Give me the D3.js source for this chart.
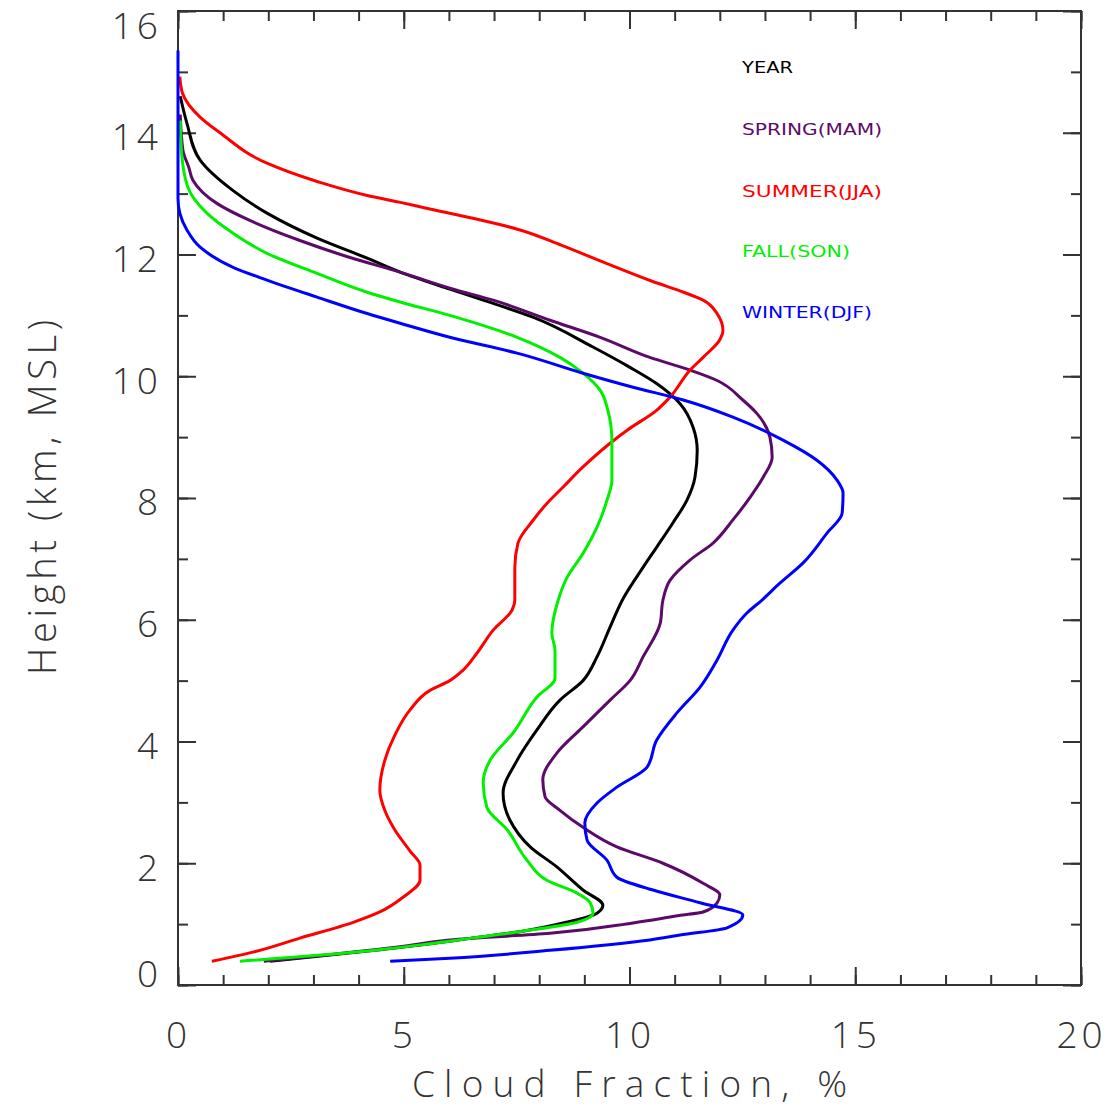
<!DOCTYPE html>
<html><head><meta charset="utf-8">
<script src="https://cdn.jsdelivr.net/npm/d3@7"></script>
<style>
html,body{margin:0;padding:0;background:#fff;}
svg{display:block;}
</style></head>
<body>
<svg id="chart" width="1107" height="1108"></svg>
<script>
// ---- data (cloud fraction %, height km) ----
const xTickLabels = [0, 5, 10, 15, 20];
const yTickLabels = [0, 2, 4, 6, 8, 10, 12, 14, 16];
const seriesNames = ["YEAR", "SPRING(MAM)", "SUMMER(JJA)", "FALL(SON)", "WINTER(DJF)"];
const seriesColors = ["#000000", "#5c0a68", "#ff0000", "#00f000", "#0000ff"];

const yearFrac   = [0.05,0.2,0.49,1.22,1.97,3.08,4.19,4.92,6.02,6.76,7.86,9.19,10.0,10.6,11.12,11.41,11.5,11.45,11.27,10.96,10.6,10.3,9.86,9.57,9.28,8.97,8.46,7.95,7.51,7.2,7.35,7.8,8.39,8.97,9.41,9.28,8.6,7.6,6.5,5.5,4.47,2.04];
const yearHgt    = [14.6,14.15,13.55,13.05,12.68,12.27,11.94,11.71,11.43,11.25,10.97,10.48,10.15,9.88,9.55,9.16,8.78,8.34,7.96,7.59,7.19,6.86,6.35,5.88,5.39,5.0,4.68,4.19,3.69,3.15,2.71,2.27,1.94,1.56,1.31,1.18,1.03,0.88,0.77,0.67,0.58,0.39];

const springFrac = [0.05,0.11,0.24,0.33,0.86,1.59,2.7,3.81,4.92,6.1,6.98,8.24,9.35,10.45,11.34,11.94,12.51,12.82,13.11,13.16,12.96,12.67,12.29,11.85,11.34,10.9,10.74,10.68,10.3,10.01,9.57,8.97,8.39,8.08,8.13,8.46,8.97,9.72,10.74,11.63,12.0,11.94,11.63,11.1,10.08,8.24,6.02,4.92,1.9];
const springHgt  = [14.3,13.71,13.43,13.22,12.84,12.56,12.23,11.95,11.71,11.43,11.25,10.92,10.64,10.31,10.1,9.93,9.61,9.39,9.0,8.67,8.34,8.01,7.64,7.26,6.98,6.65,6.32,5.94,5.39,5.0,4.68,4.24,3.81,3.37,3.09,2.87,2.59,2.27,2.0,1.67,1.48,1.35,1.2,1.14,1.02,0.85,0.74,0.63,0.39];

const summerFrac = [0.04,0.1,0.5,0.93,1.97,3.08,4.19,4.9,5.5,6.5,7.5,8.5,9.5,10.5,11.2,11.63,11.94,12.07,12.0,11.63,11.34,10.9,10.6,9.94,9.57,8.97,8.53,8.17,7.86,7.53,7.46,7.46,7.4,6.98,6.62,6.31,6.02,5.58,5.14,4.8,4.58,4.47,4.58,4.8,5.14,5.36,5.36,5.0,4.47,3.88,2.7,1.66,0.75];
const summerHgt  = [14.92,14.65,14.25,14.0,13.5,13.2,12.97,12.86,12.76,12.6,12.42,12.15,11.85,11.56,11.38,11.25,11.03,10.75,10.6,10.31,10.1,9.66,9.44,9.11,8.9,8.51,8.18,7.91,7.63,7.26,6.86,6.32,6.16,5.83,5.45,5.17,5.0,4.84,4.52,4.1,3.69,3.2,2.87,2.55,2.2,1.97,1.72,1.45,1.2,1.03,0.77,0.54,0.39];

const fallFrac   = [0.05,0.08,0.22,0.64,1.22,1.97,3.08,4.19,4.92,6.02,7.51,8.46,8.97,9.35,9.52,9.61,9.61,9.5,9.28,8.97,8.62,8.42,8.28,8.35,8.35,7.95,7.42,6.91,6.76,6.84,7.29,7.73,8.17,8.84,9.13,9.19,8.84,7.6,6.5,5.5,4.47,1.37];
const fallHgt    = [14.2,13.66,13.1,12.68,12.35,12.02,11.69,11.38,11.22,11.0,10.64,10.31,10.05,9.77,9.44,8.95,8.29,7.96,7.52,7.09,6.7,6.32,5.78,5.5,5.04,4.73,4.14,3.69,3.33,2.92,2.55,2.05,1.72,1.51,1.35,1.18,1.03,0.88,0.77,0.67,0.58,0.39];

const winterFrac = [0.0,0.0,0.04,0.2,0.49,1.22,1.97,3.08,4.19,4.92,6.02,7.51,8.97,10.08,11.19,12.29,13.4,14.15,14.6,14.73,14.71,14.37,13.84,13.33,12.93,12.6,12.29,11.94,11.56,11.05,10.6,10.39,9.72,9.28,9.01,9.06,9.5,9.72,10.52,11.56,12.51,12.16,11.12,10.45,8.24,6.02,4.7];
const winterHgt  = [15.35,12.92,12.68,12.4,12.12,11.79,11.58,11.3,11.03,10.87,10.64,10.38,10.05,9.82,9.61,9.33,8.95,8.62,8.29,8.08,7.75,7.42,6.93,6.6,6.32,6.11,5.83,5.34,4.89,4.47,4.02,3.58,3.25,2.99,2.66,2.38,2.05,1.77,1.56,1.35,1.15,0.94,0.82,0.74,0.57,0.44,0.39];

const xTitle = "Cloud Fraction, %";
const yTitle = "Height (km, MSL)";

// ---- drawing ----
const svg = d3.select("#chart");
const L = 178, R = 1081, T = 11, B = 985;
const x = d3.scaleLinear().domain([0, 20]).range([L, R]);
const y = d3.scaleLinear().domain([0, 16]).range([B, T]);

const axisColor = "#333";
const tickFont = "'Open Sans', 'DejaVu Sans', sans-serif";

function styleAxis(g) {
  g.select(".domain").remove();
  g.selectAll(".tick line").attr("stroke", axisColor).attr("stroke-width", 2);
}
const minorX = d3.range(0, 21, 1);
const minorY = d3.range(0, 17, 1);

// minor ticks (all four sides, inward)
svg.append("g").attr("transform", `translate(0,${B})`)
  .call(d3.axisBottom(x).tickValues(minorX).tickSize(-10).tickFormat("")).call(styleAxis);
svg.append("g").attr("transform", `translate(0,${T})`)
  .call(d3.axisTop(x).tickValues(minorX).tickSize(-10).tickFormat("")).call(styleAxis);
svg.append("g").attr("transform", `translate(${L},0)`)
  .call(d3.axisLeft(y).tickValues(minorY).tickSize(-10).tickFormat("")).call(styleAxis);
svg.append("g").attr("transform", `translate(${R},0)`)
  .call(d3.axisRight(y).tickValues(minorY).tickSize(-10).tickFormat("")).call(styleAxis);

// major ticks
const gx = svg.append("g").attr("transform", `translate(0,${B})`)
  .call(d3.axisBottom(x).tickValues(xTickLabels).tickSize(-18).tickPadding(37).tickFormat(d3.format("d")));
gx.call(styleAxis);
svg.append("g").attr("transform", `translate(0,${T})`)
  .call(d3.axisTop(x).tickValues(xTickLabels).tickSize(-18).tickFormat("")).call(styleAxis);
const gy = svg.append("g").attr("transform", `translate(${L},0)`)
  .call(d3.axisLeft(y).tickValues(yTickLabels).tickSize(-18).tickPadding(20).tickFormat(d3.format("d")));
gy.call(styleAxis);
svg.append("g").attr("transform", `translate(${R},0)`)
  .call(d3.axisRight(y).tickValues(yTickLabels).tickSize(-18).tickFormat("")).call(styleAxis);

[gx, gy].forEach(g => g.selectAll("text")
  .attr("fill", "#333").attr("font-family", tickFont).attr("font-weight", 300)
  .attr("font-size", 37).attr("letter-spacing", 4));
gy.selectAll("text").attr("dx", 4)
  .attr("y", d => d === 16 ? 16 : (d === 0 ? -10 : 5));

// frame
svg.append("rect").attr("x", L).attr("y", T).attr("width", R - L).attr("height", B - T)
  .attr("fill", "none").attr("stroke", axisColor).attr("stroke-width", 2);

// lines (each profile is a function of height, so smooth monotonically in y)
const allFrac = [yearFrac, springFrac, summerFrac, fallFrac, winterFrac];
const allHgt = [yearHgt, springHgt, summerHgt, fallHgt, winterHgt];
const line = d3.line().x(d => x(d[0])).y(d => y(d[1])).curve(d3.curveMonotoneY);
[0, 1, 2, 3, 4].forEach(i => {
  const pts = allFrac[i].map((v, k) => [v, allHgt[i][k]]);
  svg.append("path").datum(pts)
    .attr("d", line).attr("fill", "none")
    .attr("stroke", seriesColors[i]).attr("stroke-width", 3)
    .attr("stroke-linejoin", "round");
});

// legend
const legY = [73, 135, 197, 257, 318];
const legW = [51, 140, 140, 108, 130];
seriesNames.forEach((n, i) => {
  svg.append("text").attr("x", 742).attr("y", legY[i])
    .attr("fill", seriesColors[i])
    .attr("font-family", "'DejaVu Sans', sans-serif")
    .attr("font-size", 16)
    .attr("textLength", legW[i]).attr("lengthAdjust", "spacingAndGlyphs")
    .text(n);
});

// axis titles
svg.append("text").attr("x", 412).attr("y", 1097)
  .attr("fill", "#333").attr("font-family", tickFont).attr("font-weight", 300)
  .attr("font-size", 37).attr("textLength", 435).attr("lengthAdjust", "spacing")
  .text(xTitle);
svg.append("text").attr("transform", "translate(56,675) rotate(-90)")
  .attr("fill", "#333").attr("font-family", tickFont).attr("font-weight", 300)
  .attr("font-size", 38).attr("textLength", 355).attr("lengthAdjust", "spacing")
  .text(yTitle);
</script>
</body></html>
